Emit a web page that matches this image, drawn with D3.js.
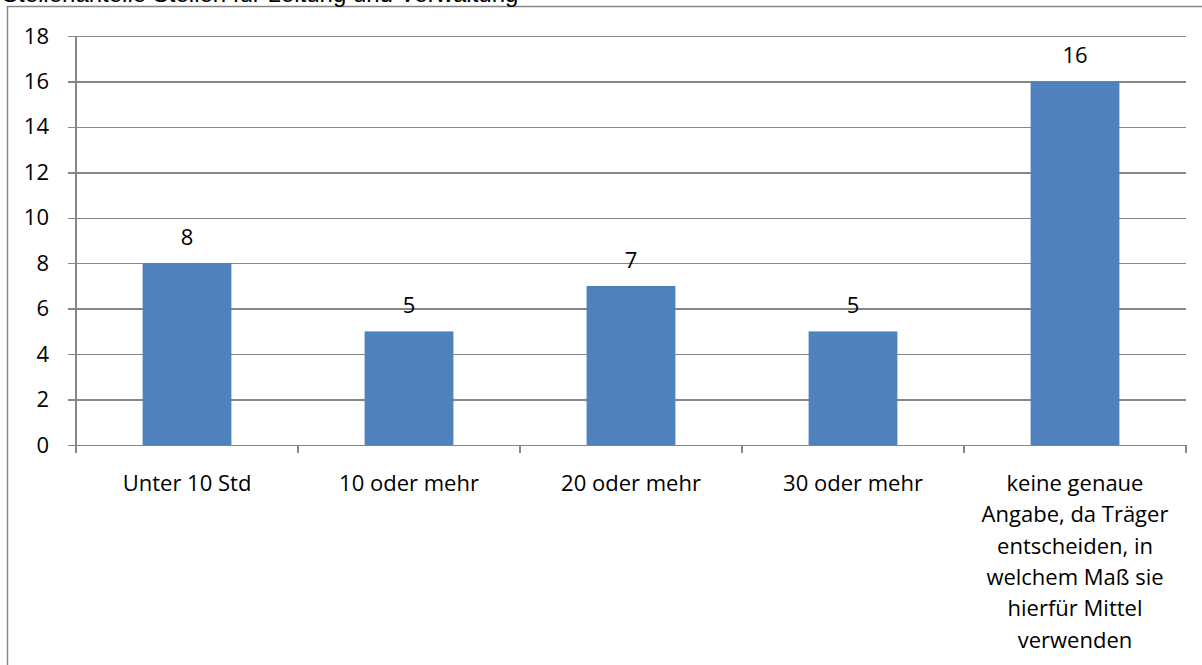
<!DOCTYPE html>
<html>
<head>
<meta charset="utf-8">
<script src="https://cdn.jsdelivr.net/npm/d3@7"></script>
<style>
  html, body { margin: 0; padding: 0; background: #fff; overflow: hidden; }
  svg { display: block; }
</style>
</head>
<body>
<svg id="chart" width="1202" height="665"></svg>
<script>
// Kategorien und Anzahl der Nennungen
const categories = [
  "Unter 10 Std",
  "10 oder mehr",
  "20 oder mehr",
  "30 oder mehr",
  "keine genaue Angabe, da Träger entscheiden, in welchem Maß sie hierfür Mittel verwenden"
];
const categoryLines = [
  ["Unter 10 Std"],
  ["10 oder mehr"],
  ["20 oder mehr"],
  ["30 oder mehr"],
  ["keine genaue", "Angabe, da Träger", "entscheiden, in", "welchem Maß sie", "hierfür Mittel", "verwenden"]
];
const values = [8, 5, 7, 5, 16];
const yTicks = [0, 2, 4, 6, 8, 10, 12, 14, 16, 18];
const title = "Stellenanteile Stellen für Leitung und Verwaltung";

const svg = d3.select("#chart");
const font = "'Open Sans', Lato, sans-serif";
const fontSize = 22;
const gridColor = "#868686";
const barColor = "#4f81bd";

// Rahmen des Diagrammbereichs
svg.append("rect")
  .attr("x", 7.5).attr("y", 6.5)
  .attr("width", 1210).attr("height", 670)
  .attr("fill", "none").attr("stroke", gridColor).attr("stroke-width", 1.5);

// Titel (oben angeschnitten)
svg.append("text")
  .attr("x", 2).attr("y", 2)
  .attr("font-family", "'Liberation Sans', Arial, sans-serif")
  .attr("font-size", 24)
  .attr("fill", "#000")
  .text(title);

const plot = { left: 76, right: 1186, top: 36, bottom: 445 };

const x = d3.scaleBand()
  .domain(categories)
  .range([plot.left, plot.right])
  .paddingInner(0.6)
  .paddingOuter(0.3);

const y = d3.scaleLinear()
  .domain([0, 18])
  .range([plot.bottom, plot.top]);

// Gitterlinien und y-Achse
const yAxis = d3.axisLeft(y)
  .tickValues(yTicks)
  .tickSize(plot.right - plot.left + 8)
  .tickSizeOuter(0)
  .tickFormat(d3.format("d"));

const gy = svg.append("g")
  .attr("transform", `translate(${plot.right},0)`)
  .call(yAxis);
gy.select(".domain").remove();
gy.selectAll(".tick line")
  .attr("stroke", gridColor).attr("stroke-width", 1.5)
  .attr("shape-rendering", "crispEdges");
gy.selectAll(".tick text")
  .attr("font-family", font).attr("font-size", fontSize).attr("fill", "#000")
  .attr("x", -(plot.right - plot.left) - 27);

svg.append("line")
  .attr("x1", plot.left).attr("x2", plot.left)
  .attr("y1", plot.top).attr("y2", plot.bottom + 7)
  .attr("stroke", gridColor).attr("stroke-width", 1.5)
  .attr("shape-rendering", "crispEdges");

// x-Achse mit Teilstrichen an den Kategoriegrenzen
const boundaries = d3.range(categories.length + 1)
  .map(i => plot.left + i * (plot.right - plot.left) / categories.length);
svg.append("g").selectAll("line")
  .data(boundaries)
  .join("line")
  .attr("x1", d => d).attr("x2", d => d)
  .attr("y1", plot.bottom).attr("y2", plot.bottom + 8)
  .attr("stroke", gridColor).attr("stroke-width", 1.5)
  .attr("shape-rendering", "crispEdges");

// Balken
svg.append("g").selectAll("rect")
  .data(values)
  .join("rect")
  .attr("x", (d, i) => x(categories[i]))
  .attr("width", x.bandwidth())
  .attr("y", d => y(d))
  .attr("height", d => y(0) - y(d))
  .attr("fill", barColor);

// Wertebeschriftungen
svg.append("g").selectAll("text")
  .data(values)
  .join("text")
  .attr("x", (d, i) => x(categories[i]) + x.bandwidth() / 2)
  .attr("y", d => y(d) - 18)
  .attr("text-anchor", "middle")
  .attr("font-family", font).attr("font-size", fontSize).attr("fill", "#000")
  .text(d => d);

// Kategoriebeschriftungen
const labels = svg.append("g").selectAll("text")
  .data(categoryLines)
  .join("text")
  .attr("text-anchor", "middle")
  .attr("font-family", font).attr("font-size", fontSize).attr("fill", "#000")
  .attr("transform", (d, i) => `translate(${x(categories[i]) + x.bandwidth() / 2},491)`);
labels.selectAll("tspan")
  .data(d => d)
  .join("tspan")
  .attr("x", 0)
  .attr("y", (d, j) => j * 31.3)
  .text(d => d);
</script>
</body>
</html>
